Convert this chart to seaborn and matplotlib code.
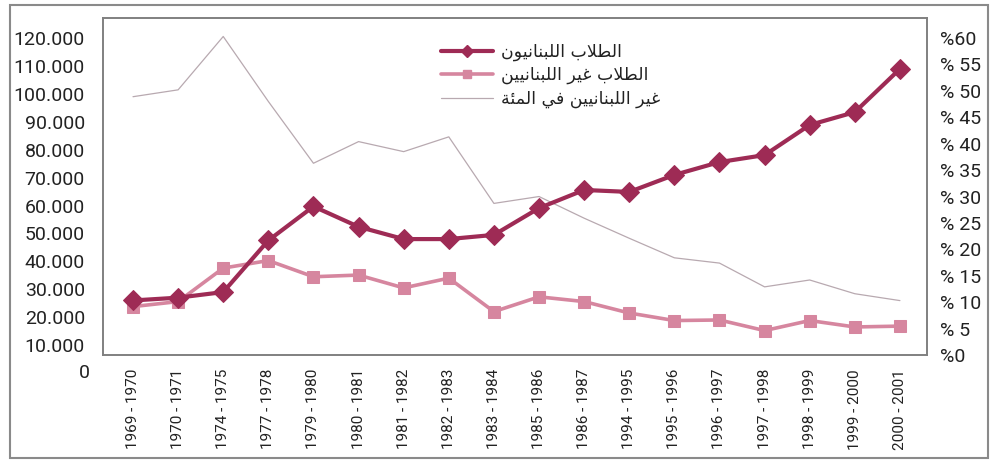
import numpy as np
import pandas as pd
import matplotlib
matplotlib.use("Agg")
import matplotlib.pyplot as plt
import matplotlib.transforms as mtransforms
from matplotlib.patches import Rectangle
from matplotlib.lines import Line2D
import seaborn as sns

# ---------------- data ----------------
categories = ["1969 - 1970", "1970 - 1971", "1974 - 1975", "1977 - 1978", "1979 - 1980",
              "1980 - 1981", "1981 - 1982", "1982 - 1983", "1983 - 1984", "1985 - 1986",
              "1986 - 1987", "1994 - 1995", "1995 - 1996", "1996 - 1997", "1997 - 1998",
              "1998 - 1999", "1999 - 2000", "2000 - 2001"]
lebanese = [26000, 27000, 29000, 47500, 59700, 52400, 48000, 48000, 49500, 59100,
            65600, 64900, 71000, 75600, 78100, 88900, 93500, 109000]
non_lebanese = [23800, 25600, 37600, 40300, 34500, 35100, 30500, 34000, 22000, 27300,
                25600, 21500, 18800, 19000, 15200, 18800, 16500, 16800]
pct_non_lebanese = [48.9, 50.2, 60.3, 48.0, 36.3, 40.4, 38.5, 41.3, 28.7, 30.0,
                    25.9, 22.1, 18.4, 17.4, 12.9, 14.2, 11.6, 10.3]
left_ticks = [10000, 20000, 30000, 40000, 50000, 60000, 70000, 80000, 90000,
              100000, 110000, 120000]
right_ticks = [0, 5, 10, 15, 20, 25, 30, 35, 40, 45, 50, 55, 60]
legend_labels = ["الطلاب اللبنانيون", "الطلاب غير اللبنانيين", "غير اللبنانيين في المئة"]

# ---------------- minimal Arabic shaping (presentation forms) ----------------
FORMS = {  # isolated, final, initial, medial
    "\u0627": ("\uFE8D", "\uFE8E", None, None),
    "\u0628": ("\uFE8F", "\uFE90", "\uFE91", "\uFE92"),
    "\u0629": ("\uFE93", "\uFE94", None, None),
    "\u0631": ("\uFEAD", "\uFEAE", None, None),
    "\u0637": ("\uFEC1", "\uFEC2", "\uFEC3", "\uFEC4"),
    "\u063A": ("\uFECD", "\uFECE", "\uFECF", "\uFED0"),
    "\u0641": ("\uFED1", "\uFED2", "\uFED3", "\uFED4"),
    "\u0644": ("\uFEDD", "\uFEDE", "\uFEDF", "\uFEE0"),
    "\u0645": ("\uFEE1", "\uFEE2", "\uFEE3", "\uFEE4"),
    "\u0646": ("\uFEE5", "\uFEE6", "\uFEE7", "\uFEE8"),
    "\u0648": ("\uFEED", "\uFEEE", None, None),
    "\u064A": ("\uFEF1", "\uFEF2", "\uFEF3", "\uFEF4"),
    "\u0626": ("\uFE89", "\uFE8A", "\uFE8B", "\uFE8C"),
}


def shape(text):
    chars = list(text)
    out = []
    i = 0
    while i < len(chars):
        c = chars[i]
        prev = chars[i - 1] if i > 0 else None
        nxt = chars[i + 1] if i + 1 < len(chars) else None
        jp = prev in FORMS and FORMS[prev][2] is not None
        if c not in FORMS:
            out.append(c)
            i += 1
            continue
        if c == "\u0644" and nxt == "\u0627":
            out.append("\uFEFC" if jp else "\uFEFB")
            i += 2
            continue
        jn = FORMS[c][2] is not None and nxt in FORMS
        iso, fin, ini, med = FORMS[c]
        if jp and jn:
            out.append(med)
        elif jp:
            out.append(fin)
        elif jn:
            out.append(ini)
        else:
            out.append(iso)
        i += 1
    return "".join(reversed(out))


# ---------------- style ----------------
sns.set_theme(style="white")
plt.rcParams["font.family"] = ["Roboto", "DejaVu Sans"]

W, H = 991, 463
fig = plt.figure(figsize=(W / 100, H / 100), dpi=100)
fig.patch.set_facecolor("white")
ax = fig.add_axes([103 / W, 1 - 355 / H, (927 - 103) / W, (355 - 18) / H])
ax2 = ax.twinx()

x = np.arange(len(categories))
df = pd.DataFrame({"x": x, "leb": lebanese, "non": non_lebanese, "pct": pct_non_lebanese})

c_leb = "#9e2b55"
c_non = "#d6869f"
c_pct = "#b8a9b0"

sns.lineplot(data=df, x="x", y="pct", ax=ax2, color=c_pct, linewidth=0.9, zorder=1)
sns.lineplot(data=df, x="x", y="non", ax=ax, color=c_non, linewidth=2.6, marker="s",
             markersize=8, markeredgecolor=c_non, zorder=3)
sns.lineplot(data=df, x="x", y="leb", ax=ax, color=c_leb, linewidth=3.0, marker="D",
             markersize=10, markeredgecolor=c_leb, zorder=4)

ax.set_zorder(ax2.get_zorder() + 1)
ax.patch.set_visible(False)

ax.set_xlim(-0.665, len(categories) - 1 + 0.6)
ax.set_ylim(6450, 127240)
ax2.set_ylim(0, 63.8)

txt_color = "#222222"
ax.set_xticks(x)
ax.set_xticklabels(categories, rotation=90, fontsize=11, color=txt_color)
ax.set_yticks(left_ticks)
ax.set_yticklabels([f"{v:,}".replace(",", ".") for v in left_ticks], fontsize=14, color=txt_color)
ax2.set_yticks(right_ticks)
r_labels = [f"%{v}" if v in (0, 60) else f"% {v}" for v in right_ticks]
ax2.set_yticklabels(r_labels, fontsize=14, color=txt_color)

ax.tick_params(axis="both", length=0)
ax.tick_params(axis="y", pad=13)
ax.tick_params(axis="x", pad=10)
ax2.tick_params(axis="y", length=0, pad=9)
ax.set_xlabel("")
ax.set_ylabel("")
ax2.set_xlabel("")
ax2.set_ylabel("")

# the "0" label sits below the frame
trans = mtransforms.blended_transform_factory(ax.transAxes, ax.transData)
ax.text(-13 / (927 - 103), 0, "0", transform=trans, ha="right", va="center",
        fontsize=14, color=txt_color, clip_on=False)

for a in (ax, ax2):
    for s in a.spines.values():
        s.set_color("#808080")
        s.set_linewidth(1.2)

# legend
handles = [
    Line2D([], [], color=c_leb, linewidth=3.0, marker="D", markersize=6),
    Line2D([], [], color=c_non, linewidth=2.6, marker="s", markersize=6),
    Line2D([], [], color=c_pct, linewidth=0.9),
]
leg = ax.legend(handles, [shape(t) for t in legend_labels], loc="upper left",
                bbox_to_anchor=(425 / W, 1 - 27 / H), bbox_transform=fig.transFigure,
                frameon=False, handlelength=3.0, labelspacing=0.3,
                handletextpad=0.5, prop={"family": "DejaVu Sans", "size": 12.5})
for t in leg.get_texts():
    t.set_color(txt_color)

# outer border of the picture
fig.patches.append(Rectangle((10 / W, 1 - 458 / H), (988 - 10) / W, (458 - 5) / H,
                             transform=fig.transFigure, fill=False,
                             edgecolor="#8a8a8a", linewidth=1.5))

fig.savefig("out.png", dpi=100)
